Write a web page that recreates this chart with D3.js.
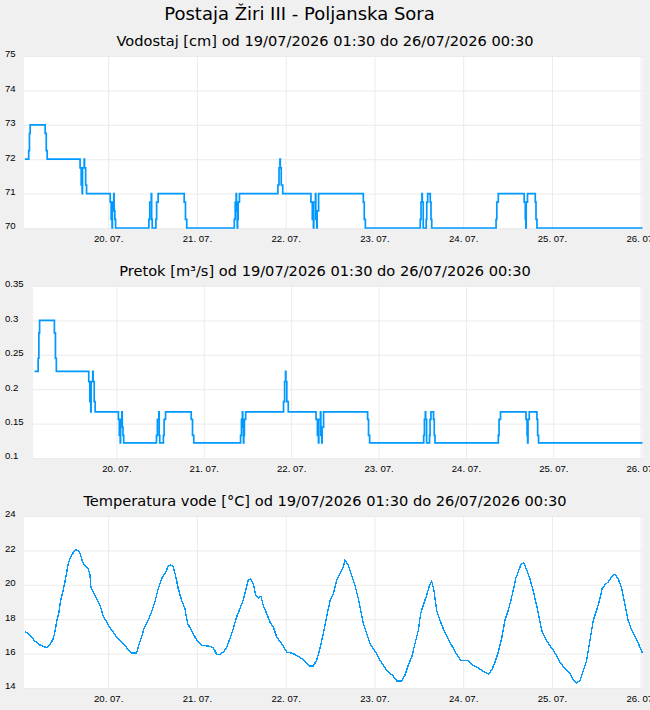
<!DOCTYPE html>
<html>
<head>
<meta charset="utf-8">
<script src="https://cdn.jsdelivr.net/npm/d3@7"></script>
<style>
  body { margin: 0; background: #f0f0f0; }
  svg { display: block; font-family: "DejaVu Sans", sans-serif; }
  .grid line { stroke: #ebebeb; stroke-width: 1; }
  .grid .domain { display: none; }
  .lbl text { fill: #000; font-size: 9.6px; }
  .lbl .domain, .lbl line { display: none; }
</style>
</head>
<body>
<script>
// Station and chart texts
const stationTitle = "Postaja Žiri III - Poljanska Sora";
const panelTitles = [
  "Vodostaj [cm] od 19/07/2026 01:30 do 26/07/2026 00:30",
  "Pretok [m³/s] od 19/07/2026 01:30 do 26/07/2026 00:30",
  "Temperatura vode [°C] od 19/07/2026 01:30 do 26/07/2026 00:30"
];

// Y tick values of each panel
const levelTicks = [70, 71, 72, 73, 74, 75];
const flowTicks = [0.1, 0.15, 0.2, 0.25, 0.3, 0.35];
const tempTicks = [14, 16, 18, 20, 22, 24];

// Water level and flow change points (hours after 19/07/2026 01:30), held until the next point
const levelHours = [0, 1.0, 1.2, 1.4, 5.46, 5.75, 6.0, 14.9, 15.2, 15.45, 15.55, 16.0, 16.1, 16.4, 16.65,
  23.05, 23.3, 23.55, 23.65, 24.0, 24.1, 24.3, 24.5, 33.5, 33.75, 34.15, 34.25, 34.4, 35.4, 35.6, 36.0,
  43.05, 43.4, 43.75, 56.6, 56.85, 57.1, 57.2, 57.4, 57.5, 57.65, 58.0, 68.4, 68.7, 68.95, 69.05, 69.3, 69.7,
  77.33, 77.7, 78.0, 78.1, 78.55, 78.65, 78.9, 79.0, 79.4, 91.5, 91.75, 92.05,
  106.9, 107.1, 107.35, 107.45, 107.7, 108.5, 108.65, 108.9, 109.6, 109.8, 110.0,
  127.4, 127.6, 128.0, 135.0, 135.3, 135.45, 135.55, 135.9, 138.0, 138.2, 138.45, 167];
const levelValues = [72, 72.25, 72.75, 73, 72.75, 72.25, 72, 71.75, 71.25, 71, 71.75, 72, 71.75, 71.25, 71,
  70.75, 70.25, 70, 70.75, 71, 70.5, 70.25, 70, 70.25, 70.75, 71, 70.25, 70, 70.25, 70.75, 71,
  70.75, 70.25, 70, 70.25, 70.75, 71, 70.5, 70, 70.25, 70.75, 71, 71.25, 71.75, 72, 71.75, 71.25, 71,
  70.75, 70.25, 70, 70.75, 71, 70.25, 70, 70.5, 71, 70.75, 70.25, 70,
  70.25, 70.75, 71, 70.75, 70, 70.25, 70.75, 71, 70.75, 70.25, 70,
  70.25, 70.75, 71, 70.75, 70.25, 70, 70.75, 71, 70.75, 70.25, 70, 70];
const flowValues = [0.226, 0.245, 0.282, 0.300, 0.282, 0.245, 0.226, 0.211, 0.182, 0.167, 0.211, 0.226, 0.211, 0.182, 0.167,
  0.156, 0.133, 0.122, 0.156, 0.167, 0.145, 0.133, 0.122, 0.133, 0.156, 0.167, 0.133, 0.122, 0.133, 0.156, 0.167,
  0.156, 0.133, 0.122, 0.133, 0.156, 0.167, 0.145, 0.122, 0.133, 0.156, 0.167, 0.182, 0.211, 0.226, 0.211, 0.182, 0.167,
  0.156, 0.133, 0.122, 0.156, 0.167, 0.133, 0.122, 0.145, 0.167, 0.156, 0.133, 0.122,
  0.133, 0.156, 0.167, 0.156, 0.122, 0.133, 0.156, 0.167, 0.156, 0.133, 0.122,
  0.133, 0.156, 0.167, 0.156, 0.133, 0.122, 0.156, 0.167, 0.156, 0.133, 0.122, 0.122];

// Water temperature readings (hours after 19/07/2026 01:30)
const tempHours = [0, 1.33, 2.68, 4.03, 4.92, 5.84, 6.74, 7.63, 8.09, 8.55, 9.17, 9.63, 10.33, 10.79, 11.25, 11.69,
  12.33, 13.04, 13.77, 14.5, 15.04, 15.58, 16.2, 17.09, 17.55, 17.83, 18.64, 19.53, 20.45, 21.15, 22.07, 22.78,
  23.86, 24.78, 26.13, 27.48, 28.83, 30.19, 30.62, 31.54, 32.16, 33.32, 34.24, 35.14, 36.03, 36.95, 37.84, 38.73,
  39.38, 40.09, 40.82, 41.44, 42.36, 43.25, 43.98, 45.06, 45.96, 46.85, 47.77, 49.55, 50.91, 51.83, 52.72, 53.61,
  54.53, 55.42, 56.32, 57.24, 58.13, 59.02, 59.67, 60.37, 61.02, 61.73, 62.37, 63.08, 63.81, 64.43, 65.35, 66.24,
  67.14, 68.06, 69.41, 70.76, 72.55, 73.9, 75.25, 76.17, 77.06, 77.95, 78.87, 79.77, 80.66, 81.58, 82.47, 83.37,
  84.29, 85.18, 85.91, 86.53, 87.43, 88.35, 89.24, 90.13, 90.78, 91.49, 92.4, 93.29, 94.18, 95.1, 96.0, 97.08,
  98.24, 99.6, 100.52, 101.87, 102.76, 103.66, 104.58, 105.47, 106.36, 107.0, 107.71, 108.63, 109.25, 109.98, 110.6, 111.33,
  112.22, 113.11, 114.03, 115.38, 116.74, 117.82, 119.88, 121.23, 122.58, 123.94, 125.29, 126.21, 127.1, 128.0, 128.9, 129.8,
  130.7, 131.4, 132.05, 132.7, 133.4, 134.1, 134.9, 135.65, 136.55, 137.4, 138.35, 139.2, 139.85, 140.75, 141.9, 142.8,
  143.7, 144.6, 146.0, 147.4, 148.3, 149.2, 150.1, 151.0, 151.9, 152.8, 153.7, 154.6, 155.5, 156.1, 157.0, 157.7,
  158.6, 159.5, 160.4, 161.4, 162.3, 163.1, 164.1, 165.0, 165.9, 167.0];
const tempValues = [17.30, 17.06, 16.73, 16.50, 16.42, 16.35, 16.50, 16.87, 17.26, 17.84, 18.42, 19.10, 19.68, 20.16, 20.69, 21.23,
  21.62, 21.87, 22.02, 22.00, 21.72, 21.33, 21.13, 20.94, 20.61, 19.87, 19.49, 19.14, 18.71, 18.17, 17.84, 17.55,
  17.26, 16.97, 16.67, 16.35, 16.03, 16.03, 16.38, 16.97, 17.45, 17.94, 18.42, 19.00, 19.78, 20.36, 20.65, 21.08,
  21.17, 21.03, 20.45, 19.78, 19.10, 18.62, 17.74, 17.35, 16.97, 16.67, 16.48, 16.44, 16.35, 15.96, 15.96, 16.09,
  16.35, 16.87, 17.45, 18.13, 18.62, 19.10, 19.68, 20.26, 20.36, 20.07, 19.39, 19.23, 19.33, 18.81, 18.33, 17.84,
  17.55, 16.97, 16.58, 16.09, 16.00, 15.84, 15.65, 15.45, 15.28, 15.28, 15.61, 16.29, 17.16, 18.13, 19.05, 19.49,
  20.26, 20.65, 20.94, 21.42, 21.13, 20.55, 19.97, 19.20, 18.52, 17.74, 17.16, 16.58, 16.29, 16.00, 15.61, 15.26,
  14.93, 14.70, 14.41, 14.41, 14.74, 15.32, 15.80, 16.58, 17.35, 18.33, 18.81, 19.39, 19.87, 20.22, 19.68, 18.52,
  17.94, 17.45, 17.06, 16.48, 15.96, 15.61, 15.61, 15.32, 15.16, 14.97, 14.82, 15.03, 15.51, 16.09, 16.87, 17.94,
  18.52, 19.10, 19.68, 20.36, 20.74, 21.19, 21.27, 20.88, 20.36, 19.68, 18.81, 17.94, 17.26, 16.87, 16.48, 16.23,
  15.90, 15.51, 15.13, 14.84, 14.45, 14.29, 14.45, 15.03, 15.61, 16.77, 17.94, 18.52, 19.20, 19.78, 20.03, 20.16,
  20.45, 20.61, 20.36, 19.78, 18.81, 17.94, 17.35, 16.97, 16.58, 16.03];

const startTime = new Date(2026, 6, 19, 1, 30);
const endTime = new Date(2026, 6, 26, 0, 30);
const toTime = h => new Date(startTime.getTime() + h * 3600000);

const W = 650, H = 710;
const svg = d3.select("body").append("svg")
  .attr("width", W)
  .attr("height", H);

svg.append("rect").attr("width", W).attr("height", H).attr("fill", "#f0f0f0");

svg.append("text")
  .attr("x", 299.5).attr("y", 20)
  .attr("text-anchor", "middle")
  .attr("font-size", "18px")
  .attr("fill", "#000")
  .text(stationTitle);

const panels = [
  { title: panelTitles[0], titleY: 45.7, left: 24, top: 56, bottom: 228, x0: 25, ticks: levelTicks,
    hours: levelHours, values: levelValues, curve: d3.curveStepAfter, width: 1.7, crisp: false },
  { title: panelTitles[1], titleY: 275.7, left: 33, top: 286, bottom: 458, x0: 34.5, ticks: flowTicks,
    hours: levelHours, values: flowValues, curve: d3.curveStepAfter, width: 1.7, crisp: false },
  { title: panelTitles[2], titleY: 505.7, left: 24, top: 516, bottom: 688, x0: 25, ticks: tempTicks,
    hours: tempHours, values: tempValues, curve: d3.curveLinear, width: 1.4, crisp: true }
];
const plotRight = 643.5, xEnd = 642.5;

panels.forEach(p => {
  svg.append("text")
    .attr("x", 325).attr("y", p.titleY)
    .attr("text-anchor", "middle")
    .attr("font-size", "14.6px")
    .attr("fill", "#000")
    .text(p.title);

  const x = d3.scaleTime().domain([startTime, endTime]).range([p.x0, xEnd]);
  const y = d3.scaleLinear().domain(d3.extent(p.ticks)).range([p.bottom, p.top]);

  svg.append("rect")
    .attr("x", p.left).attr("y", p.top)
    .attr("width", plotRight - p.left).attr("height", p.bottom - p.top)
    .attr("fill", "#fff");

  // vertical grid, one line per day plus the end of the range
  svg.append("g")
    .attr("class", "grid")
    .attr("transform", "translate(0," + p.bottom + ")")
    .call(d3.axisBottom(x).tickValues(d3.timeDay.range(toTime(1), endTime).concat([endTime]))
      .tickSize(-(p.bottom - p.top)).tickFormat(""));

  // horizontal grid
  svg.append("g")
    .attr("class", "grid")
    .attr("transform", "translate(" + p.left + ",0)")
    .call(d3.axisLeft(y).tickValues(p.ticks).tickSize(-(plotRight - p.left)).tickFormat(""));

  // day labels
  const xl = svg.append("g")
    .attr("class", "lbl")
    .attr("transform", "translate(0," + p.bottom + ")")
    .call(d3.axisBottom(x).tickValues(d3.timeDay.range(toTime(1), endTime))
      .tickSize(0).tickFormat(d3.timeFormat("%d. %m.")));
  xl.selectAll("text").attr("y", 13.5).attr("dy", 0);

  // value labels, left aligned at the page edge
  const yl = svg.append("g")
    .attr("class", "lbl")
    .attr("transform", "translate(" + p.left + ",0)")
    .call(d3.axisLeft(y).tickValues(p.ticks).tickSize(0).tickFormat(d => String(d)));
  yl.selectAll("text").attr("x", 5 - p.left).attr("text-anchor", "start").attr("dy", "0.1em");

  const line = d3.line()
    .x((d, i) => x(toTime(p.hours[i])))
    .y(d => y(d))
    .curve(p.curve);

  svg.append("path")
    .datum(p.values)
    .attr("fill", "none")
    .attr("stroke", "#0099ff")
    .attr("stroke-width", p.width)
    .attr("shape-rendering", p.crisp ? "crispEdges" : "auto")
    .attr("d", line);
});
</script>
</body>
</html>
